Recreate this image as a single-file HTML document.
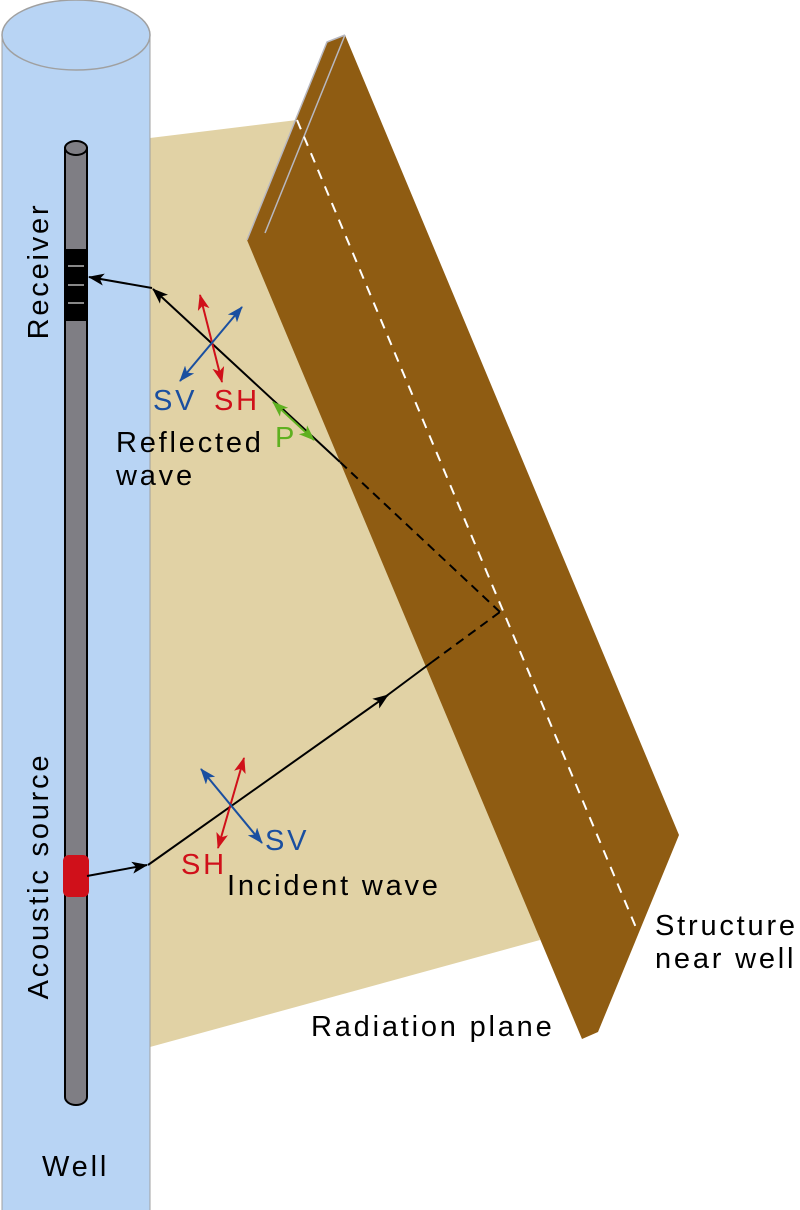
<!DOCTYPE html>
<html><head><meta charset="utf-8"><style>
body{margin:0;background:#fff;}
svg{display:block;font-family:"Liberation Sans",Arial,sans-serif;}
</style></head><body>
<svg width="800" height="1210" viewBox="0 0 800 1210" xmlns="http://www.w3.org/2000/svg">
<defs>
<marker id="ab" markerWidth="16" markerHeight="12" refX="15" refY="6" orient="auto" markerUnits="userSpaceOnUse" viewBox="0 0 16 12"><path d="M0,0 L16,6 L0,12 L4,6 z" fill="#000"/></marker>
<marker id="ar" markerWidth="16" markerHeight="12" refX="15" refY="6" orient="auto-start-reverse" markerUnits="userSpaceOnUse" viewBox="0 0 16 12"><path d="M0,0 L16,6 L0,12 L4,6 z" fill="#d0101a"/></marker>
<marker id="abl" markerWidth="16" markerHeight="12" refX="15" refY="6" orient="auto-start-reverse" markerUnits="userSpaceOnUse" viewBox="0 0 16 12"><path d="M0,0 L16,6 L0,12 L4,6 z" fill="#1a4fa0"/></marker>
<marker id="ag" markerWidth="16" markerHeight="12" refX="15" refY="6" orient="auto-start-reverse" markerUnits="userSpaceOnUse" viewBox="0 0 16 12"><path d="M0,0 L16,6 L0,12 L4,6 z" fill="#5fb020"/></marker>
</defs>
<polygon points="150,138 297,120 540,940 150,1047" fill="#e1d2a5"/>
<rect x="2" y="35" width="148" height="1180" fill="#b8d4f4" stroke="#a0a0a0" stroke-width="1"/>
<ellipse cx="76" cy="35" rx="74" ry="35" fill="#b8d4f4" stroke="#a0a0a0" stroke-width="1.5"/>
<path d="M65,148 L65,1097 A11,8 0 0 0 87,1097 L87,148 Z" fill="#7f7e84" stroke="#000" stroke-width="2"/>
<ellipse cx="76" cy="148" rx="11" ry="7" fill="#7f7e84" stroke="#000" stroke-width="2"/>
<rect x="64" y="249" width="24" height="72" fill="#000"/>
<line x1="68" y1="266" x2="84" y2="266" stroke="#888" stroke-width="2"/>
<line x1="68" y1="285" x2="84" y2="285" stroke="#888" stroke-width="2"/>
<line x1="68" y1="303" x2="84" y2="303" stroke="#888" stroke-width="2"/>
<rect x="63" y="855" width="26" height="42" rx="6" fill="#d0101a"/>
<polygon points="247,240 327,42 345,35 679,835 598,1032 582,1039" fill="#8f5c12"/>
<polyline points="247,240 327,42 345,35" fill="none" stroke="#b8b8c0" stroke-width="1.5"/>
<line x1="265" y1="233" x2="345" y2="35" stroke="#b8b8c0" stroke-width="1.5"/>
<line x1="297" y1="120" x2="637" y2="930" stroke="#fff" stroke-width="2" stroke-dasharray="10,8"/>
<line x1="87" y1="876" x2="147" y2="865" stroke="#000" stroke-width="2" marker-end="url(#ab)"/>
<line x1="148" y1="865" x2="388" y2="695" stroke="#000" stroke-width="2" marker-end="url(#ab)"/>
<line x1="385" y1="697" x2="432" y2="662" stroke="#000" stroke-width="2"/>
<line x1="432" y1="662" x2="500" y2="612" stroke="#000" stroke-width="2" stroke-dasharray="9,6"/>
<line x1="500" y1="612" x2="340" y2="462" stroke="#000" stroke-width="2" stroke-dasharray="9,6"/>
<line x1="340" y1="462" x2="153" y2="289" stroke="#000" stroke-width="2" marker-end="url(#ab)"/>
<line x1="152" y1="288" x2="89" y2="277" stroke="#000" stroke-width="2" marker-end="url(#ab)"/>
<line x1="222" y1="382" x2="200" y2="295" stroke="#d0101a" stroke-width="2" marker-start="url(#ar)" marker-end="url(#ar)"/>
<line x1="180" y1="381" x2="242" y2="307" stroke="#1a4fa0" stroke-width="2" marker-start="url(#abl)" marker-end="url(#abl)"/>
<line x1="273" y1="402" x2="314" y2="440" stroke="#5fb020" stroke-width="2" marker-start="url(#ag)" marker-end="url(#ag)"/>
<line x1="218" y1="848" x2="244" y2="758" stroke="#d0101a" stroke-width="2" marker-start="url(#ar)" marker-end="url(#ar)"/>
<line x1="201" y1="769" x2="262" y2="843" stroke="#1a4fa0" stroke-width="2" marker-start="url(#abl)" marker-end="url(#abl)"/>
<g font-size="29" letter-spacing="2.8">
<text x="48" y="271" transform="rotate(-90 48 271)" text-anchor="middle">Receiver</text>
<text x="48" y="876" transform="rotate(-90 48 876)" text-anchor="middle">Acoustic source</text>
<text x="42" y="1176">Well</text>
<text x="153" y="410" fill="#1a4fa0">SV</text>
<text x="214" y="410" fill="#d0101a">SH</text>
<text x="275" y="447" fill="#5fb020">P</text>
<text x="116" y="452">Reflected</text>
<text x="116" y="485">wave</text>
<text x="181" y="874" fill="#d0101a">SH</text>
<text x="265" y="850" fill="#1a4fa0">SV</text>
<text x="227" y="895">Incident wave</text>
<text x="655" y="935">Structure</text>
<text x="655" y="968">near well</text>
<text x="311" y="1036">Radiation plane</text>
</g>
</svg>
</body></html>
